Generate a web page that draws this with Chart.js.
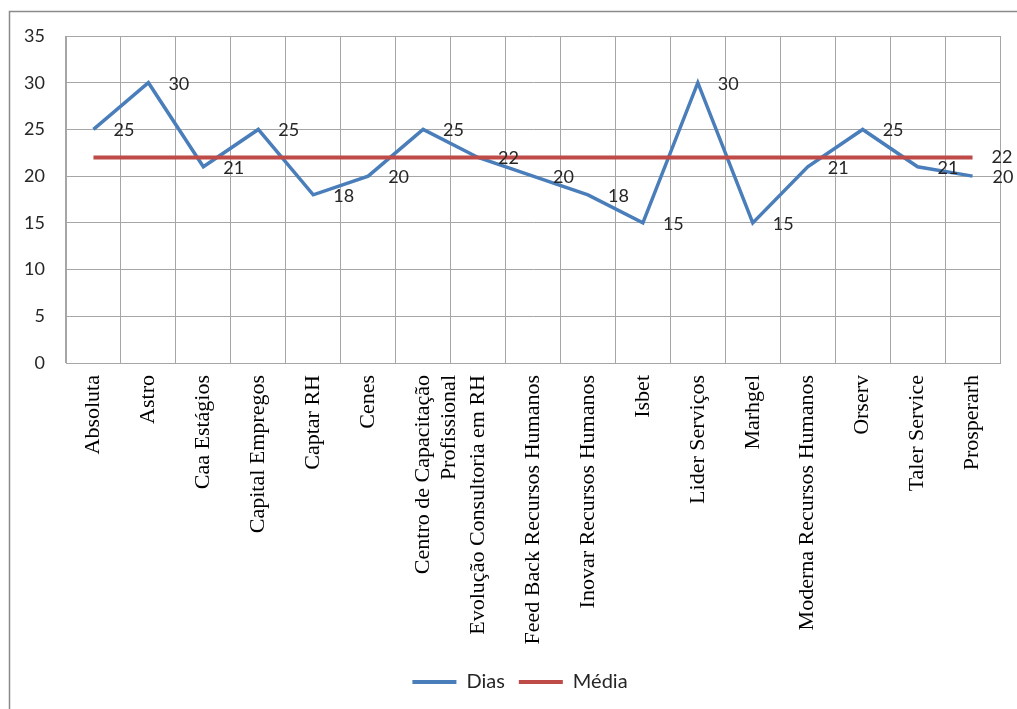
<!DOCTYPE html>
<html>
<head>
<meta charset="utf-8">
<script src="https://cdn.jsdelivr.net/npm/chart.js@4/dist/chart.umd.min.js"></script>
<style>
  html, body { margin: 0; padding: 0; background: #ffffff; }
  #wrap { position: relative; width: 1017px; height: 709px; overflow: hidden; }
  canvas { display: block; }
</style>
</head>
<body>
<div id="wrap"><canvas id="c" width="1017" height="709"></canvas></div>
<script>
const categories = [
  "Absoluta", "Astro", "Caa Estágios", "Capital Empregos", "Captar RH", "Cenes",
  ["Centro de Capacitação", "Profissional"], "Evolução Consultoria em RH",
  "Feed Back Recursos Humanos", "Inovar Recursos Humanos", "Isbet", "Lider Serviços",
  "Marhgel", "Moderna Recursos Humanos", "Orserv", "Taler Service", "Prosperarh"
];
const diasValues  = [25, 30, 21, 25, 18, 20, 25, 22, 20, 18, 15, 30, 15, 21, 25, 21, 20];
const mediaValues = [22, 22, 22, 22, 22, 22, 22, 22, 22, 22, 22, 22, 22, 22, 22, 22, 22];
const yTicks = [0, 5, 10, 15, 20, 25, 30, 35];

const SANS = "Lato, 'Open Sans', sans-serif";
const SERIF = "'Liberation Serif', 'DejaVu Serif', serif";

const frame = {
  id: 'frame',
  beforeDraw(chart) {
    const ctx = chart.ctx;
    ctx.save();
    ctx.strokeStyle = '#8a8a8a';
    ctx.lineWidth = 1.5;
    ctx.strokeRect(9.5, 11.5, 1200, 900);
    ctx.restore();
  }
};

const legendShift = {
  id: 'legendShift',
  afterLayout(chart) {
    if (chart.legend) { chart.legend.left = 40; }
  }
};

const valueLabels = {
  id: 'valueLabels',
  afterDatasetsDraw(chart) {
    const ctx = chart.ctx;
    ctx.save();
    ctx.font = "18px " + SANS;
    ctx.fillStyle = '#262626';
    ctx.textAlign = 'left';
    ctx.textBaseline = 'middle';
    const m0 = chart.getDatasetMeta(0);
    m0.data.forEach((pt, i) => {
      ctx.fillText(String(diasValues[i]), pt.x + 20, pt.y + 1);
    });
    const m1 = chart.getDatasetMeta(1);
    const last = m1.data[m1.data.length - 1];
    ctx.fillText(String(mediaValues[mediaValues.length - 1]), last.x + 19, last.y);
    ctx.restore();
  }
};

new Chart(document.getElementById('c'), {
  type: 'line',
  data: {
    labels: categories,
    datasets: [
      {
        label: 'Dias', data: diasValues, borderColor: '#4A7EBB', backgroundColor: '#4A7EBB',
        borderWidth: 3.5, pointRadius: 0, tension: 0, order: 2
      },
      {
        label: 'Média', data: mediaValues, borderColor: '#BE4B48', backgroundColor: '#BE4B48',
        borderWidth: 4, pointRadius: 0, tension: 0, order: 1
      }
    ]
  },
  options: {
    responsive: false,
    devicePixelRatio: 1,
    animation: false,
    layout: { padding: { top: 36, right: 17, left: 0, bottom: 7 } },
    plugins: {
      tooltip: { enabled: false },
      legend: {
        position: 'bottom',
        labels: {
          boxWidth: 44, boxHeight: 4, padding: 14,
          color: '#262626',
          font: { family: SANS, size: 20 },
          sort: (a, b) => a.datasetIndex - b.datasetIndex,
          generateLabels(chart) {
            return chart.data.datasets.map((ds, i) => ({
              text: ds.label, fillStyle: ds.borderColor, strokeStyle: ds.borderColor,
              lineWidth: 0, hidden: false, datasetIndex: i, fontColor: '#262626'
            }));
          }
        }
      }
    },
    scales: {
      x: {
        offset: true,
        grid: { offset: true, color: '#a6a6a6', lineWidth: 1, drawTicks: false },
        border: { color: '#a6a6a6' },
        ticks: {
          maxRotation: 90, minRotation: 90, autoSkip: false, padding: 12,
          color: '#000000', font: { family: SERIF, size: 22 }
        },
        afterFit(scale) { scale.height = 295; }
      },
      y: {
        min: 0, max: 35,
        grid: { color: '#a6a6a6', lineWidth: 1, drawTicks: false },
        border: { color: '#a6a6a6' },
        afterBuildTicks(scale) { scale.ticks = yTicks.map(v => ({ value: v })); },
        ticks: { padding: 21, color: '#262626', font: { family: SANS, size: 18 } },
        afterFit(scale) { scale.width = 66; }
      }
    }
  },
  plugins: [frame, legendShift, valueLabels]
});
</script>
</body>
</html>
